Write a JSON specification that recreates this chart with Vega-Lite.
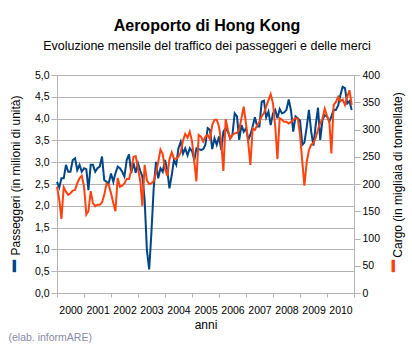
{
  "$schema": "https://vega.github.io/schema/vega-lite/v6.json",
  "width": 297,
  "height": 218,
  "autosize": {"type": "none"},
  "padding": {"left": 57, "top": 75, "right": 58, "bottom": 52},
  "background": "white",
  "title": {
    "text": "Aeroporto di Hong Kong",
    "subtitle": "Evoluzione mensile del traffico dei passeggeri e delle merci",
    "anchor": "middle",
    "font": "Liberation Sans",
    "fontSize": 16,
    "fontWeight": "bold",
    "color": "#000000",
    "subtitleFont": "Liberation Sans",
    "subtitleFontSize": 12.5,
    "subtitleColor": "#000000",
    "subtitlePadding": 6,
    "offset": 18,
    "dx": 1.5
  },
  "data": {
    "values": [
      {"mese": "2000-01", "p": 2.55, "c": 195}, {"mese": "2000-02", "p": 2.42, "c": 171}, {"mese": "2000-03", "p": 2.63, "c": 136}, {"mese": "2000-04", "p": 2.63, "c": 194}, {"mese": "2000-05", "p": 2.94, "c": 186}, {"mese": "2000-06", "p": 2.78, "c": 180}, {"mese": "2000-07", "p": 2.78, "c": 183}, {"mese": "2000-08", "p": 3.05, "c": 188}, {"mese": "2000-09", "p": 3.09, "c": 189}, {"mese": "2000-10", "p": 2.82, "c": 201}, {"mese": "2000-11", "p": 2.94, "c": 211}, {"mese": "2000-12", "p": 2.78, "c": 215},
      {"mese": "2001-01", "p": 2.86, "c": 195}, {"mese": "2001-02", "p": 2.84, "c": 144}, {"mese": "2001-03", "p": 2.36, "c": 150}, {"mese": "2001-04", "p": 2.94, "c": 187}, {"mese": "2001-05", "p": 2.94, "c": 165}, {"mese": "2001-06", "p": 2.78, "c": 159}, {"mese": "2001-07", "p": 2.86, "c": 162}, {"mese": "2001-08", "p": 2.90, "c": 162}, {"mese": "2001-09", "p": 3.13, "c": 166}, {"mese": "2001-10", "p": 2.59, "c": 180}, {"mese": "2001-11", "p": 2.55, "c": 201}, {"mese": "2001-12", "p": 2.52, "c": 198},
      {"mese": "2002-01", "p": 2.74, "c": 183}, {"mese": "2002-02", "p": 2.55, "c": 165}, {"mese": "2002-03", "p": 2.74, "c": 150}, {"mese": "2002-04", "p": 2.90, "c": 211}, {"mese": "2002-05", "p": 2.86, "c": 195}, {"mese": "2002-06", "p": 2.78, "c": 197}, {"mese": "2002-07", "p": 2.67, "c": 201}, {"mese": "2002-08", "p": 3.05, "c": 209}, {"mese": "2002-09", "p": 3.18, "c": 209}, {"mese": "2002-10", "p": 2.75, "c": 225}, {"mese": "2002-11", "p": 2.98, "c": 250}, {"mese": "2002-12", "p": 2.76, "c": 251},
      {"mese": "2003-01", "p": 2.97, "c": 228}, {"mese": "2003-02", "p": 2.80, "c": 205}, {"mese": "2003-03", "p": 2.67, "c": 160}, {"mese": "2003-04", "p": 2.13, "c": 235}, {"mese": "2003-05", "p": 0.99, "c": 207}, {"mese": "2003-06", "p": 0.54, "c": 200}, {"mese": "2003-07", "p": 1.38, "c": 201}, {"mese": "2003-08", "p": 2.40, "c": 205}, {"mese": "2003-09", "p": 3.01, "c": 220}, {"mese": "2003-10", "p": 2.63, "c": 240}, {"mese": "2003-11", "p": 2.86, "c": 263}, {"mese": "2003-12", "p": 2.78, "c": 255},
      {"mese": "2004-01", "p": 3.05, "c": 228}, {"mese": "2004-02", "p": 2.82, "c": 215}, {"mese": "2004-03", "p": 2.40, "c": 245}, {"mese": "2004-04", "p": 2.70, "c": 258}, {"mese": "2004-05", "p": 3.05, "c": 247}, {"mese": "2004-06", "p": 2.94, "c": 246}, {"mese": "2004-07", "p": 3.32, "c": 250}, {"mese": "2004-08", "p": 3.47, "c": 258}, {"mese": "2004-09", "p": 3.20, "c": 280}, {"mese": "2004-10", "p": 3.32, "c": 292}, {"mese": "2004-11", "p": 3.16, "c": 285}, {"mese": "2004-12", "p": 3.32, "c": 296},
      {"mese": "2005-01", "p": 3.25, "c": 278}, {"mese": "2005-02", "p": 3.05, "c": 240}, {"mese": "2005-03", "p": 3.32, "c": 205}, {"mese": "2005-04", "p": 3.30, "c": 290}, {"mese": "2005-05", "p": 3.28, "c": 287}, {"mese": "2005-06", "p": 3.30, "c": 278}, {"mese": "2005-07", "p": 3.40, "c": 287}, {"mese": "2005-08", "p": 3.78, "c": 290}, {"mese": "2005-09", "p": 3.74, "c": 282}, {"mese": "2005-10", "p": 3.30, "c": 308}, {"mese": "2005-11", "p": 3.55, "c": 318}, {"mese": "2005-12", "p": 3.40, "c": 318},
      {"mese": "2006-01", "p": 3.59, "c": 305}, {"mese": "2006-02", "p": 3.28, "c": 275}, {"mese": "2006-03", "p": 3.70, "c": 224}, {"mese": "2006-04", "p": 3.78, "c": 319}, {"mese": "2006-05", "p": 3.70, "c": 299}, {"mese": "2006-06", "p": 3.55, "c": 283}, {"mese": "2006-07", "p": 3.63, "c": 290}, {"mese": "2006-08", "p": 4.12, "c": 293}, {"mese": "2006-09", "p": 4.05, "c": 294}, {"mese": "2006-10", "p": 3.51, "c": 300}, {"mese": "2006-11", "p": 3.85, "c": 321}, {"mese": "2006-12", "p": 3.70, "c": 342},
      {"mese": "2007-01", "p": 3.78, "c": 311}, {"mese": "2007-02", "p": 3.51, "c": 275}, {"mese": "2007-03", "p": 3.63, "c": 235}, {"mese": "2007-04", "p": 3.82, "c": 302}, {"mese": "2007-05", "p": 4.03, "c": 299}, {"mese": "2007-06", "p": 3.82, "c": 308}, {"mese": "2007-07", "p": 3.82, "c": 314}, {"mese": "2007-08", "p": 4.39, "c": 324}, {"mese": "2007-09", "p": 4.41, "c": 330}, {"mese": "2007-10", "p": 4.03, "c": 342}, {"mese": "2007-11", "p": 4.16, "c": 354}, {"mese": "2007-12", "p": 3.85, "c": 365},
      {"mese": "2008-01", "p": 4.12, "c": 348}, {"mese": "2008-02", "p": 4.20, "c": 305}, {"mese": "2008-03", "p": 4.01, "c": 246}, {"mese": "2008-04", "p": 4.22, "c": 321}, {"mese": "2008-05", "p": 4.12, "c": 318}, {"mese": "2008-06", "p": 4.14, "c": 314}, {"mese": "2008-07", "p": 4.20, "c": 314}, {"mese": "2008-08", "p": 4.44, "c": 311}, {"mese": "2008-09", "p": 4.18, "c": 314}, {"mese": "2008-10", "p": 3.70, "c": 318}, {"mese": "2008-11", "p": 4.05, "c": 321}, {"mese": "2008-12", "p": 4.01, "c": 320},
      {"mese": "2009-01", "p": 3.95, "c": 290}, {"mese": "2009-02", "p": 3.40, "c": 240}, {"mese": "2009-03", "p": 3.45, "c": 197}, {"mese": "2009-04", "p": 3.80, "c": 240}, {"mese": "2009-05", "p": 4.20, "c": 262}, {"mese": "2009-06", "p": 3.70, "c": 272}, {"mese": "2009-07", "p": 3.38, "c": 275}, {"mese": "2009-08", "p": 3.85, "c": 285}, {"mese": "2009-09", "p": 4.25, "c": 300}, {"mese": "2009-10", "p": 3.51, "c": 312}, {"mese": "2009-11", "p": 3.97, "c": 320}, {"mese": "2009-12", "p": 4.08, "c": 338},
      {"mese": "2010-01", "p": 4.05, "c": 325}, {"mese": "2010-02", "p": 3.93, "c": 315}, {"mese": "2010-03", "p": 4.05, "c": 256}, {"mese": "2010-04", "p": 4.20, "c": 345}, {"mese": "2010-05", "p": 4.20, "c": 350}, {"mese": "2010-06", "p": 4.30, "c": 360}, {"mese": "2010-07", "p": 4.54, "c": 352}, {"mese": "2010-08", "p": 4.73, "c": 355}, {"mese": "2010-09", "p": 4.70, "c": 345}, {"mese": "2010-10", "p": 4.35, "c": 360}, {"mese": "2010-11", "p": 4.40, "c": 372}, {"mese": "2010-12", "p": 4.20, "c": 345}
    ]
  },
  "layer": [
    {
      "mark": {"type": "line", "opacity": 0},
      "encoding": {
        "x": {
          "field": "mese", "type": "temporal",
          "scale": {"domain": [{"year": 2000, "month": 1, "date": 1}, {"year": 2011, "month": 1, "date": 1}]},
          "axis": {
            "orient": "bottom", "domain": false, "ticks": false, "labels": false, "grid": false,
            "title": "(elab. informARE)", "titleColor": "#8a8aa6", "titleFontSize": 10.5,
            "titleAlign": "left", "titleAnchor": null, "titleX": -49, "titleY": 47, "titleBaseline": "alphabetic"
          }
        },
        "y": {
          "field": "p", "type": "quantitative", "scale": {"domain": [0, 5]},
          "axis": {
            "orient": "left", "domain": false, "ticks": false, "labels": false, "grid": false,
            "title": "━", "titleColor": "#004586", "titleFont": "DejaVu Sans", "titleFontSize": 20,
            "titleAngle": -90, "titleX": -42.7, "titleY": 190.5, "titleBaseline": "middle", "titleAlign": "center"
          }
        }
      }
    },
    {
      "mark": {"type": "line", "opacity": 0},
      "encoding": {
        "x": {"field": "mese", "type": "temporal", "axis": null},
        "y": {
          "field": "c", "type": "quantitative", "scale": {"domain": [0, 400]},
          "axis": {
            "orient": "right", "domain": false, "ticks": false, "labels": false, "grid": false,
            "title": "━", "titleColor": "#ff420e", "titleFont": "DejaVu Sans", "titleFontSize": 20,
            "titleAngle": -90, "titleX": 39.6, "titleY": 190.5, "titleBaseline": "middle", "titleAlign": "center"
          }
        }
      }
    },
    {
      "mark": {"type": "line", "color": "#004586", "strokeWidth": 2},
      "encoding": {
        "x": {
          "field": "mese", "type": "temporal",
          "axis": {
            "orient": "bottom",
            "values": [{"year": 2000}, {"year": 2001}, {"year": 2002}, {"year": 2003}, {"year": 2004}, {"year": 2005}, {"year": 2006}, {"year": 2007}, {"year": 2008}, {"year": 2009}, {"year": 2010}, {"year": 2011}],
            "format": "%Y",
            "labelExpr": "datum.label == '2011' ? '' : datum.label",
            "labelOffset": 13.5, "labelFlush": false, "labelOverlap": false,
            "labelBaseline": "top", "labelPadding": 8, "tickSize": 4,
            "grid": false, "title": "anni", "titleY": 35, "titleBaseline": "alphabetic"
          }
        },
        "y": {
          "field": "p", "type": "quantitative", "scale": {"domain": [0, 5]},
          "axis": {
            "orient": "left",
            "values": [0, 0.5, 1, 1.5, 2, 2.5, 3, 3.5, 4, 4.5, 5],
            "labelExpr": "replace(format(datum.value, '.1f'), '.', ',')",
            "grid": true, "tickSize": 6, "labelPadding": 2,
            "title": "Passeggeri  (in milioni di unità)",
            "titleAngle": -90, "titleX": -37.5, "titleY": 100, "titleBaseline": "alphabetic", "titleAlign": "center"
          }
        }
      }
    },
    {
      "mark": {"type": "line", "color": "#ff420e", "strokeWidth": 2},
      "encoding": {
        "x": {"field": "mese", "type": "temporal", "axis": null},
        "y": {
          "field": "c", "type": "quantitative", "scale": {"domain": [0, 400]},
          "axis": {
            "orient": "right",
            "values": [0, 50, 100, 150, 200, 250, 300, 350, 400],
            "grid": false, "tickSize": 6, "labelPadding": 2,
            "title": "Cargo  (in migliaia di tonnellate)",
            "titleAngle": -90, "titleX": 47.3, "titleY": 99.5, "titleBaseline": "alphabetic", "titleAlign": "center"
          }
        }
      }
    }
  ],
  "resolve": {"scale": {"y": "independent"}, "axis": {"x": "independent"}},
  "config": {
    "view": {"stroke": null},
    "font": "Liberation Sans",
    "axis": {
      "domainColor": "#b3b3b3",
      "tickColor": "#b3b3b3",
      "gridColor": "#b3b3b3",
      "gridOpacity": 1,
      "labelFont": "Liberation Sans",
      "labelFontSize": 10.5,
      "labelColor": "#000000",
      "titleFont": "Liberation Sans",
      "titleFontSize": 12,
      "titleFontWeight": "normal",
      "titleColor": "#000000"
    }
  }
}
